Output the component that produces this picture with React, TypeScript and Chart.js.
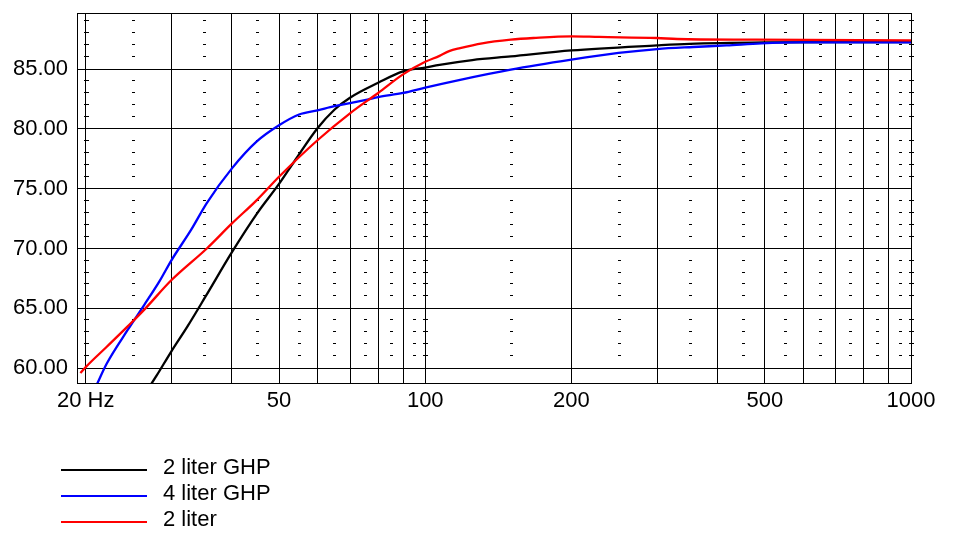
import React, { useEffect, useRef } from "react";
import { Chart, registerables } from "chart.js";

Chart.register(...registerables);

// ---- data ----
const seriesNames = ["2 liter GHP", "4 liter GHP", "2 liter"];
const seriesColors = ["#000000", "#0000ff", "#ff0000"];

const blackFreq = [27, 28, 30, 32.4, 35.3, 40, 45, 50, 54, 60, 65, 70, 80, 90, 100, 107, 125, 150, 200, 300, 350, 500, 700, 1000];
const blackDb = [58.4, 59.4, 61.4, 63.5, 66.0, 69.7, 72.9, 75.4, 77.4, 80.05, 81.6, 82.6, 83.85, 84.8, 85.12, 85.35, 85.75, 86.05, 86.55, 86.97, 87.1, 87.22, 87.25, 87.25];

const blueFreq = [21, 22.1, 24.4, 26.4, 28.4, 30, 33, 35.5, 40, 45, 50, 55, 60, 65, 70, 76, 80, 90, 100, 118, 150, 200, 250, 300, 356, 417, 492, 590, 1000];
const blueDb = [58.5, 60.4, 63.2, 65.3, 67.3, 69.0, 71.6, 73.8, 76.7, 78.95, 80.3, 81.2, 81.55, 81.9, 82.15, 82.45, 82.65, 83.0, 83.45, 84.1, 84.95, 85.78, 86.34, 86.67, 86.84, 86.97, 87.14, 87.22, 87.22];

const redFreq = [19.5, 20, 22.1, 24.4, 26.4, 30, 35.6, 40, 45, 50, 60, 70, 80, 90, 100, 107, 112, 118, 131, 150, 167, 200, 228, 300, 330, 478, 1000];
const redDb = [59.6, 60.1, 61.8, 63.5, 64.9, 67.35, 70.05, 72.1, 74.05, 76.0, 79.05, 81.3, 83.0, 84.55, 85.6, 86.1, 86.5, 86.75, 87.15, 87.45, 87.59, 87.73, 87.68, 87.59, 87.51, 87.45, 87.39];

// axis ticks
const xGridHz = [20, 30, 40, 50, 60, 70, 80, 90, 100, 200, 300, 400, 500, 600, 700, 800, 900, 1000];
const xLabelHz = [20, 50, 100, 200, 500, 1000];
const xMinorHz = [25, 35, 45, 55, 65, 75, 85, 95, 150, 250, 350, 450, 550, 650, 750, 850, 950];
const xCrossHz = [20, 100, 1000];
const yGridDb = [60, 65, 70, 75, 80, 85];
const yMinorDb = [61, 62, 63, 64, 66, 67, 68, 69, 71, 72, 73, 74, 76, 77, 78, 79, 81, 82, 83, 84, 86, 87, 88, 89];

const X_MIN = 19.19;
const X_MAX = 1000;
const Y_MIN = 58.77;
const Y_MAX = 89.68;

const FONT = "'Liberation Sans', Arial, sans-serif";
const FONT_SIZE = 22;

const pairs = (xs: number[], ys: number[]) => xs.map((x, i) => ({ x, y: ys[i] }));

const framePlugin = {
  id: "frameAndMinor",
  beforeDatasetsDraw(chart: any) {
    const { ctx, chartArea, scales } = chart;
    const xs = scales.x;
    const ys = scales.y;
    ctx.save();
    ctx.fillStyle = "#000";
    for (const db of yMinorDb) {
      const py = Math.round(ys.getPixelForValue(db)) - 1;
      for (const f of xMinorHz) {
        const px = Math.round(xs.getPixelForValue(f));
        ctx.fillRect(px - 1, py, 3, 1);
      }
      for (const f of xCrossHz) {
        const px = Math.round(xs.getPixelForValue(f));
        ctx.fillRect(px - 2, py, 5, 1);
      }
    }
    ctx.strokeStyle = "#000";
    ctx.lineWidth = 1;
    const l = Math.round(chartArea.left) + 0.5;
    const t = Math.round(chartArea.top) + 0.5;
    const r = Math.round(chartArea.right) + 0.5;
    const b = Math.round(chartArea.bottom) + 0.5;
    ctx.strokeRect(l, t, r - l, b - t);
    ctx.restore();
  },
  afterDraw(chart: any) {
    const { ctx } = chart;
    ctx.save();
    const x0 = 61;
    const x1 = 147;
    const yStart = 470;
    const rowH = 25.8;
    ctx.font = `${FONT_SIZE}px ${FONT}`;
    ctx.textBaseline = "middle";
    ctx.textAlign = "left";
    chart.data.datasets.forEach((ds: any, i: number) => {
      const y = Math.round(yStart + i * rowH);
      ctx.strokeStyle = ds.borderColor;
      ctx.lineWidth = 2;
      ctx.beginPath();
      ctx.moveTo(x0, y);
      ctx.lineTo(x1, y);
      ctx.stroke();
      ctx.fillStyle = "#000";
      ctx.fillText(ds.label, 163, y - 2);
    });
    ctx.restore();
  },
};

export default function App() {
  const ref = useRef<HTMLCanvasElement | null>(null);

  useEffect(() => {
    document.body.style.margin = "0";
    const canvas = ref.current;
    if (!canvas) return;
    const chart = new Chart(canvas, {
      type: "line",
      data: {
        datasets: [
          { label: seriesNames[0], data: pairs(blackFreq, blackDb), borderColor: seriesColors[0], order: 2 },
          { label: seriesNames[1], data: pairs(blueFreq, blueDb), borderColor: seriesColors[1], order: 1 },
          { label: seriesNames[2], data: pairs(redFreq, redDb), borderColor: seriesColors[2], order: 0 },
        ].map((d) => ({
          ...d,
          borderWidth: 2.3,
          pointRadius: 0,
          fill: false,
          cubicInterpolationMode: "monotone" as const,
        })),
      },
      options: {
        responsive: false,
        animation: false,
        devicePixelRatio: 1,
        layout: { padding: { left: 0, top: 13, right: 44, bottom: 0 } },
        plugins: { legend: { display: false }, tooltip: { enabled: false } },
        scales: {
          x: {
            type: "logarithmic",
            min: X_MIN,
            max: X_MAX,
            afterBuildTicks: (scale: any) => {
              scale.ticks = xGridHz.map((v) => ({ value: v }));
            },
            afterFit: (scale: any) => {
              scale.height = 164;
              scale.paddingLeft = 0;
              scale.paddingRight = 0;
              scale.paddingTop = 0;
              scale.paddingBottom = 0;
            },
            grid: { color: "#000", lineWidth: 1, drawTicks: false },
            border: { display: false },
            ticks: {
              autoSkip: false,
              maxRotation: 0,
              minRotation: 0,
              padding: 5,
              color: "#000",
              font: { family: FONT, size: FONT_SIZE },
              callback: (v: any) => {
                const n = Number(v);
                if (n === 20) return "20 Hz";
                return xLabelHz.includes(n) ? String(n) : "";
              },
            },
          },
          y: {
            type: "linear",
            min: Y_MIN,
            max: Y_MAX,
            afterBuildTicks: (scale: any) => {
              scale.ticks = yGridDb.map((v) => ({ value: v }));
            },
            afterFit: (scale: any) => {
              scale.width = 77;
              scale.paddingLeft = 0;
              scale.paddingRight = 0;
              scale.paddingTop = 0;
              scale.paddingBottom = 0;
            },
            grid: { color: "#000", lineWidth: 1, drawTicks: false },
            border: { display: false },
            ticks: {
              padding: 9,
              color: "#000",
              font: { family: FONT, size: FONT_SIZE },
              callback: (v: any) => Number(v).toFixed(2),
            },
          },
        },
      },
      plugins: [framePlugin],
    });
    return () => chart.destroy();
  }, []);

  return (
    <canvas
      ref={ref}
      width={955}
      height={547}
      style={{ display: "block", width: 955, height: 547 }}
    />
  );
}
